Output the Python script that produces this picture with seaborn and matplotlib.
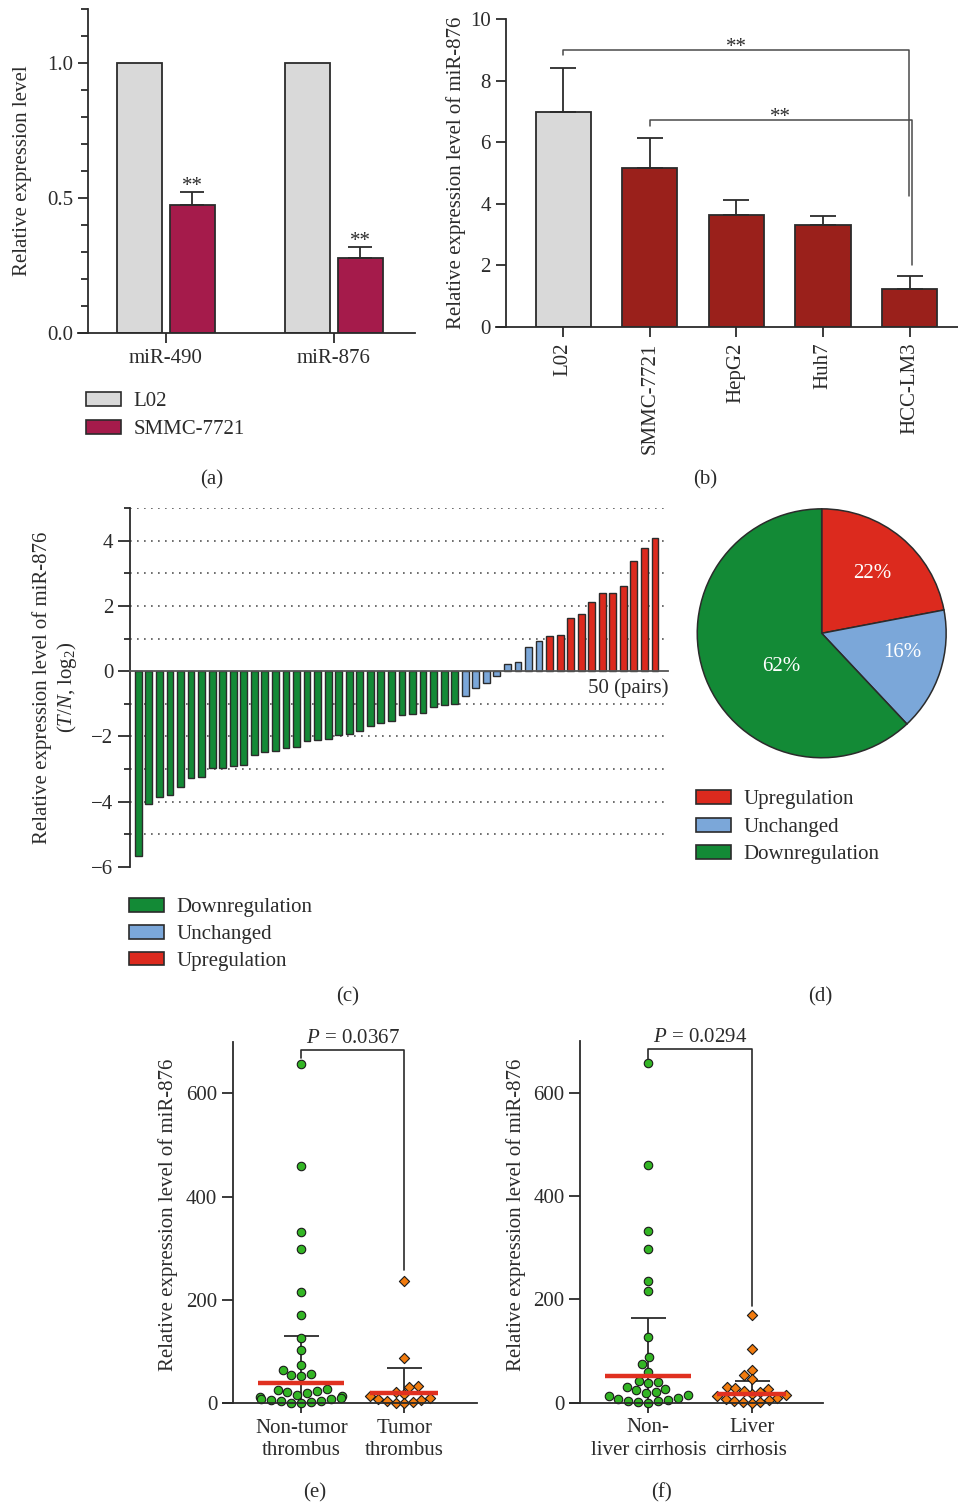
import numpy as np
import pandas as pd
import matplotlib
matplotlib.use("Agg")
import matplotlib.pyplot as plt
from matplotlib.patches import Patch
from matplotlib.ticker import FixedLocator, FixedFormatter
import seaborn as sns

# ---------------- data ----------------
# (a) miRNA levels, L02 vs SMMC-7721
mirnas = ["miR-490", "miR-876"]
pair_cells = ["L02", "SMMC-7721"]
level_l02 = [1.0, 1.0]
level_smmc = [0.473, 0.278]
err_smmc = [0.048, 0.039]

# (b) miR-876 across cell lines
cell_lines = ["L02", "SMMC-7721", "HepG2", "Huh7", "HCC-LM3"]
mir876_level = [6.97, 5.16, 3.62, 3.32, 1.23]
mir876_err = [1.44, 0.97, 0.51, 0.28, 0.42]

# (c) tumour / non-tumour ratio per patient pair (log2), sorted
log2_tn = [-5.66, -4.08, -3.84, -3.79, -3.56, -3.28, -3.25, -2.97, -2.96, -2.91,
           -2.87, -2.57, -2.48, -2.45, -2.36, -2.33, -2.15, -2.10, -2.07, -1.97,
           -1.91, -1.84, -1.68, -1.60, -1.54, -1.35, -1.32, -1.27, -1.11, -1.05,
           -1.00, -0.75, -0.53, -0.35, -0.16, 0.23, 0.29, 0.75, 0.91, 1.07,
           1.10, 1.64, 1.74, 2.12, 2.39, 2.39, 2.62, 3.39, 3.78, 4.08]
direction = (["Downregulation"] * 31 + ["Unchanged"] * 8 + ["Upregulation"] * 11)

# (d) share of each class
pie_labels = ["Upregulation", "Unchanged", "Downregulation"]
pie_pct = [22, 16, 62]

# (e) thrombus groups
e_groups = ["Non-tumor\nthrombus", "Tumor\nthrombus"]
e_nontumor = [657, 460, 332, 299, 216, 170, 126, 103, 74, 64, 56, 54, 52,
              28, 26, 24, 21, 19, 17, 15, 13, 11, 9, 8, 6, 5, 4, 2, 1, 0]
e_tumor = [236, 87, 34, 31, 22, 18, 14, 11, 8, 6, 4, 2, 1, 0]
e_mean = [38.7, 20.6]
e_err = [91.3, 48.4]
e_pval = "0.0367"

# (f) cirrhosis groups
f_groups = ["Non-\nliver cirrhosis", "Liver\ncirrhosis"]
f_noncirr = [657, 460, 333, 298, 236, 217, 127, 89, 75, 60, 42, 41, 39,
             30, 27, 24, 21, 18, 15, 12, 10, 8, 6, 4, 3, 1, 0]
f_cirr = [170, 103, 64, 54, 46, 31, 29, 26, 23, 20, 17, 14, 12, 10, 8, 6, 4, 2, 1, 0]
f_mean = [52.0, 17.4]
f_err = [112.0, 25.2]
f_pval = "0.0294"

# ---------------- style ----------------
sns.set_style("ticks")
FONT = ["Liberation Serif", "DejaVu Serif"]
plt.rcParams["font.family"] = FONT
plt.rcParams["mathtext.fontset"] = "custom"
plt.rcParams["mathtext.rm"] = "Liberation Serif"
plt.rcParams["mathtext.it"] = "Liberation Serif:italic"
INK = "#2b2b2b"
plt.rcParams.update({
    "font.size": 15, "text.color": INK, "axes.labelcolor": INK,
    "xtick.color": INK, "ytick.color": INK, "axes.edgecolor": INK,
    "axes.linewidth": 1.3, "xtick.major.width": 1.3, "ytick.major.width": 1.3,
    "ytick.minor.width": 1.3, "xtick.direction": "out", "ytick.direction": "out",
    "xtick.labelsize": 15, "ytick.labelsize": 15,
})

GRAY = "#d9d9d9"
WINE = "#a51b4b"
BRICK = "#9a201b"
C_DOWN, C_UNCH, C_UP = "#138a36", "#7ba7d9", "#dc2a1e"
PT_GREEN, PT_ORANGE = "#33b524", "#f27b0e"
MEAN_RED = "#e03020"

W, H = 958, 1505
fig = plt.figure(figsize=(W / 100, H / 100), dpi=100)


def add_ax(l, t, r, b):
    return fig.add_axes([l / W, 1 - b / H, (r - l) / W, (b - t) / H])


def fx(x):
    return x / W


def fy(y):
    return 1 - y / H


def upper_err(ax, bars, errs, capsize):
    for bar, e in zip(bars, errs):
        x = bar.get_x() + bar.get_width() / 2
        ax.errorbar(x, bar.get_height(), yerr=[[0], [e]], fmt="none", ecolor=INK,
                    elinewidth=1.3, capsize=capsize, capthick=1.3, zorder=3)


def plain_axes(ax):
    sns.despine(ax=ax)
    ax.set_xlabel("")
    ax.set_ylabel("")


def patch_legend(ax, colors, labels, left, top, spacing):
    ax.legend(handles=[Patch(facecolor=c, edgecolor=INK, lw=1.2, label=l)
                       for c, l in zip(colors, labels)],
              loc="upper left", bbox_to_anchor=(fx(left), fy(top)),
              bbox_transform=fig.transFigure, frameon=False, borderpad=0,
              borderaxespad=0, handlelength=1.7, handleheight=0.65,
              handletextpad=0.58, labelspacing=spacing, fontsize=15)


# ---------------- (a) ----------------
ax = add_ax(78, 9, 415, 333)
df_a = pd.DataFrame({
    "miRNA": mirnas * 2,
    "cell": [pair_cells[0]] * 2 + [pair_cells[1]] * 2,
    "level": level_l02 + level_smmc,
})
sns.barplot(data=df_a, x="miRNA", y="level", hue="cell", hue_order=pair_cells,
            palette=[GRAY, WINE], width=0.625, gap=0.14, saturation=1,
            edgecolor=INK, linewidth=1.3, errorbar=None, legend=False, ax=ax)
smmc_bars = sorted(ax.containers[1], key=lambda p: p.get_x())
upper_err(ax, smmc_bars, err_smmc, 8.6)
for bar, e in zip(smmc_bars, err_smmc):
    ax.text(bar.get_x() + bar.get_width() / 2, bar.get_height() + e - 0.012, "**",
            ha="center", va="bottom", fontsize=15)
plain_axes(ax)
ax.set_ylim(0, 1.2)
ax.set_xlim(-0.524, 1.482)
ax.spines["left"].set_position(("axes", 10 / 337))
ax.yaxis.set_major_locator(FixedLocator([0, 0.5, 1.0]))
ax.yaxis.set_major_formatter(FixedFormatter(["0.0", "0.5", "1.0"]))
ax.yaxis.set_minor_locator(FixedLocator(np.round(np.arange(0, 1.21, 0.1), 2)))
ax.tick_params(axis="y", which="major", length=7.2)
ax.tick_params(axis="y", which="minor", length=5)
ax.tick_params(axis="x", length=7.2, pad=4)
ax.set_ylabel("Relative expression level", fontsize=15, va="center")
ax.yaxis.set_label_coords(-0.166, 0.5)
patch_legend(ax, [GRAY, WINE], pair_cells, 86, 392, 0.41)

# ---------------- (b) ----------------
ax = add_ax(496, 19.3, 958, 326.7)
df_b = pd.DataFrame({"cell": cell_lines, "level": mir876_level})
sns.barplot(data=df_b, x="cell", y="level", hue="cell", order=cell_lines,
            hue_order=cell_lines, palette=[GRAY] + [BRICK] * 4, width=0.637,
            saturation=1, edgecolor=INK, linewidth=1.3, errorbar=None,
            legend=False, ax=ax)
bars_b = sorted([p for c in ax.containers for p in c], key=lambda p: p.get_x())
upper_err(ax, bars_b, mir876_err, 9.7)
plain_axes(ax)
ax.set_ylim(0, 10)
ax.set_xlim(-0.776, 4.56)
ax.spines["left"].set_position(("axes", 9.7 / 462))
ax.set_yticks([0, 2, 4, 6, 8, 10])
ax.tick_params(axis="y", length=7.2)
ax.tick_params(axis="x", length=7.2, labelrotation=90, pad=4)
ax.set_ylabel("Relative expression level of miR-876", fontsize=15, va="center")
ax.yaxis.set_label_coords(-0.087, 0.5)
BR = "#4a4a4a"
ax.plot([0, 0, 3.99, 3.99], [8.85, 9.0, 9.0, 4.25], color=BR, lw=1.1, clip_on=False)
ax.text(2.0, 8.78, "**", ha="center", va="bottom", fontsize=15)
ax.plot([1, 1, 4.03, 4.03], [6.53, 6.72, 6.72, 2.0], color=BR, lw=1.1, clip_on=False)
ax.text(2.51, 6.5, "**", ha="center", va="bottom", fontsize=15)

# ---------------- (c) ----------------
ax = add_ax(130, 508, 668.3, 867)
grid_levels = [5, 4, 3, 2, 1, -1, -2, -3, -4, -5]
ax.hlines(grid_levels, -0.79, 50.26, colors="#555555", linestyles=(0, (1, 3.2)),
          lw=1.2, zorder=0)
df_c = pd.DataFrame({"pair": np.arange(len(log2_tn)), "log2": log2_tn,
                     "direction": direction})
sns.barplot(data=df_c, x="pair", y="log2", hue="direction",
            palette={"Downregulation": C_DOWN, "Unchanged": C_UNCH,
                     "Upregulation": C_UP},
            dodge=False, width=0.65, saturation=1, edgecolor=INK, linewidth=1.0,
            errorbar=None, legend=False, ax=ax)
plain_axes(ax)
ax.set_ylim(-6, 5)
ax.set_xlim(-0.79, 50.26)
ax.spines["bottom"].set_position(("data", 0))
ax.spines["bottom"].set_color("#555555")
ax.set_xticks([])
ax.set_yticks([-6, -4, -2, 0, 2, 4])
ax.yaxis.set_minor_locator(FixedLocator([-5, -3, -1, 1, 3, 5]))
ax.tick_params(axis="y", which="major", length=8.4)
ax.tick_params(axis="y", which="minor", length=4.5)
ax.text(50.26, -0.22, "50 (pairs)", ha="right", va="top", fontsize=15)
ax.set_ylabel("Relative expression level of miR-876\n($T/N$, log$_2$)",
              fontsize=15, va="center", linespacing=1.2)
ax.yaxis.set_label_coords(-0.138, 0.5)
patch_legend(ax, [C_DOWN, C_UNCH, C_UP],
             ["Downregulation", "Unchanged", "Upregulation"], 129, 898, 0.36)

# ---------------- (d) ----------------
ax = add_ax(696, 507.6, 947.4, 759)
wedges, _, autotexts = ax.pie(pie_pct, colors=[C_UP, C_UNCH, C_DOWN], startangle=90,
                              counterclock=False, autopct="%.0f%%",
                              wedgeprops=dict(edgecolor=INK, linewidth=1.1),
                              textprops=dict(color="white", fontsize=15))
for t, pos in zip(autotexts, [(0.41, 0.48), (0.647, -0.157), (-0.324, -0.268)]):
    t.set_position(pos)
ax.set_xlim(-1.01, 1.01)
ax.set_ylim(-1.01, 1.01)
ax.set_aspect("equal")
patch_legend(ax, [C_UP, C_UNCH, C_DOWN], pie_labels, 696, 790, 0.4)


# ---------------- (e) & (f) ----------------
def scatter_panel(ax, groups, g0, g1, means, errs, pval, halfw, spine_frac,
                  xlim, bracket):
    df0 = pd.DataFrame({"group": groups[0], "value": g0})
    df1 = pd.DataFrame({"group": groups[1], "value": g1})
    ax.errorbar([0, 1], means, yerr=errs, fmt="none", ecolor=INK, elinewidth=1.3,
                capsize=12.6, capthick=1.3, zorder=1)
    n_before = len(ax.collections)
    sns.swarmplot(data=df0, x="group", y="value", order=groups, marker="o",
                  color=PT_GREEN, edgecolor="#1a1a1a", linewidth=0.8, size=6.1,
                  ax=ax, zorder=2)
    sns.swarmplot(data=df1, x="group", y="value", order=groups, marker="D",
                  color=PT_ORANGE, edgecolor="#1a1a1a", linewidth=0.8, size=5.2,
                  ax=ax, zorder=2)
    for coll in ax.collections[n_before:]:
        coll.set_clip_on(False)
    for i, (m, hw) in enumerate(zip(means, halfw)):
        ax.plot([i - hw, i + hw], [m, m], color=MEAN_RED, lw=3.2,
                solid_capstyle="butt", zorder=4)
    plain_axes(ax)
    ax.set_ylim(0, 700)
    ax.set_xlim(*xlim)
    ax.spines["left"].set_position(("axes", spine_frac))
    ax.set_yticks([0, 200, 400, 600])
    ax.tick_params(axis="y", length=7.6)
    ax.tick_params(axis="x", length=7.2, pad=4)
    ax.set_xticks([0, 1])
    ax.set_xticklabels(groups, linespacing=1.25)
    ax.set_ylabel("Relative expression level of miR-876", fontsize=15, va="center")
    ax.yaxis.set_label_coords(-0.215, 0.52)
    ax.plot([0, 0, 1, 1], bracket, color=INK, lw=1.2, clip_on=False)
    ax.text(0.5, 688, f"$P$ = {pval}", ha="center", va="bottom", fontsize=15)


ax = add_ax(223, 1041.6, 477, 1403.3)
scatter_panel(ax, e_groups, e_nontumor, e_tumor, e_mean, e_err, e_pval,
              [0.417, 0.33], 9.7 / 254, (-0.76, 1.706), [668, 684, 684, 258])

ax = add_ax(570, 1041, 823, 1402.7)
scatter_panel(ax, f_groups, f_noncirr, f_cirr, f_mean, f_err, f_pval,
              [0.417, 0.335], 10 / 253, (-0.757, 1.69), [666, 685, 685, 187])

# ---------------- panel tags ----------------
for tag, x, y in [("(a)", 212, 480), ("(b)", 705, 480), ("(c)", 348, 997),
                  ("(d)", 820, 997), ("(e)", 315, 1493), ("(f)", 662, 1493)]:
    fig.text(fx(x), fy(y), tag, ha="center", va="center", fontsize=15)

fig.savefig("out.png", dpi=100)
